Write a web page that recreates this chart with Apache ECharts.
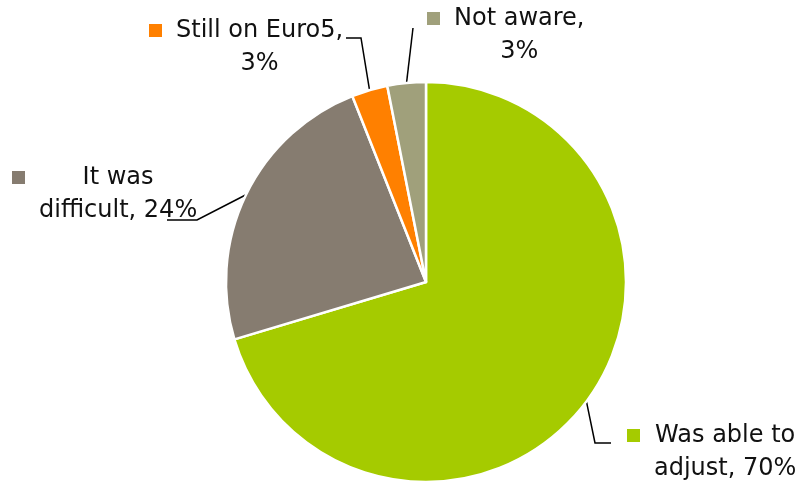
<!DOCTYPE html>
<html>
<head>
<meta charset="utf-8">
<script src="https://cdn.jsdelivr.net/npm/echarts@6/dist/echarts.min.js"></script>
<style>
  html, body { margin: 0; padding: 0; background: #fff; }
  #chart { width: 808px; height: 483px; }
</style>
</head>
<body>
<div id="chart"></div>
<script>
// Survey answers, clockwise from 12 o'clock
const categories = ['Was able to adjust', 'It was difficult', 'Still on Euro5', 'Not aware'];
const shares = [70.3, 23.6, 2.9, 3.1];
// How each category name wraps inside its label (second part continues on line two)
const nameLines = [['Was able to', 'adjust'], ['It was', 'difficult'], ['Still on Euro5', ''], ['Not aware', '']];
const colors = ['#a5cb00', '#867c70', '#ff8000', '#a0a07b'];

// Label box placement (top-left) and leader-line elbows, per slice
const labelBoxes = [
  { x: 627, y: 419, line: [[595, 443], [611, 443]] },
  { x: 12, y: 161, line: [[197, 220], [167, 220]] },
  { x: 149, y: 14, line: [[361, 38], [346, 38]] },
  { x: 427, y: 2, line: [[413, 28]] }
];

const FONT = 'DejaVu Sans';
const rich = {
  g: { width: 14, align: 'left', fontSize: 24, fontFamily: FONT },
  s: { width: 27, align: 'left', fontSize: 24, fontFamily: FONT },
  t: { align: 'center', fontSize: 24, fontFamily: FONT, color: '#111', lineHeight: 33 }
};
colors.forEach(function (c, i) {
  rich['m' + i] = { width: 13, height: 13, backgroundColor: c, align: 'left' };
});

const chart = echarts.init(document.getElementById('chart'), null, { renderer: 'canvas' });
chart.setOption({
  animation: false,
  color: colors,
  series: [{
    type: 'pie',
    center: [426, 282],
    radius: 200,
    startAngle: 90,
    clockwise: true,
    percentPrecision: 0,
    itemStyle: { borderColor: '#fff', borderWidth: 2.5 },
    label: {
      show: true,
      position: 'outer',
      lineHeight: 33,
      overflow: 'none',
      edgeDistance: 0,
      bleedMargin: 0,
      rich: rich,
      formatter: function (p) {
        const parts = nameLines[p.dataIndex];
        const pct = p.percent + '%';
        const l1 = parts[1] ? parts[0] : parts[0] + ',';
        const l2 = parts[1] ? parts[1] + ', ' + pct : pct;
        return '{m' + p.dataIndex + '|}{g| }{t|' + l1 + '}\n{s| }{t|' + l2 + '}';
      }
    },
    labelLine: { show: true, lineStyle: { color: '#000', width: 1.5 } },
    labelLayout: function (params) {
      const b = labelBoxes[params.dataIndex];
      const start = params.labelLinePoints[0];
      return {
        x: b.x,
        y: b.y,
        align: 'left',
        verticalAlign: 'top',
        labelLinePoints: [start].concat(b.line)
      };
    },
    emphasis: { disabled: true },
    data: categories.map(function (name, i) { return { name: name, value: shares[i] }; })
  }]
});
</script>
</body>
</html>
